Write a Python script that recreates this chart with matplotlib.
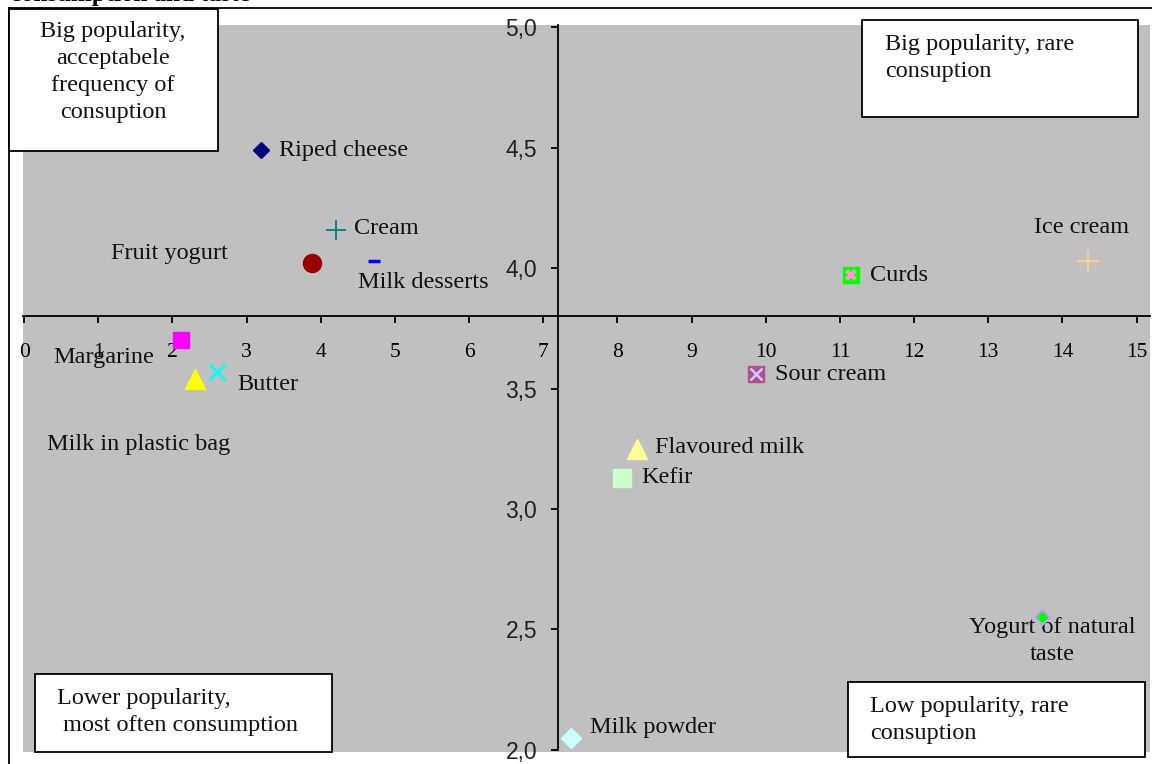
import matplotlib
matplotlib.use("Agg")
import matplotlib.pyplot as plt
from matplotlib.lines import Line2D
from matplotlib.patches import Rectangle

# ---- data ----
products = ["Riped cheese", "Cream", "Fruit yogurt", "Milk desserts", "Curds",
            "Ice cream", "Margarine", "Butter", "Milk in plastic bag", "Sour cream",
            "Flavoured milk", "Kefir", "Yogurt of natural\ntaste", "Milk powder"]
x_vals = [3.2, 4.2, 3.88, 4.72, 11.15, 14.34, 2.12, 2.6, 2.3, 9.87, 8.26, 8.06, 13.73, 7.37]
y_vals = [4.49, 4.16, 4.02, 4.03, 3.97, 4.03, 3.70, 3.57, 3.54, 3.56, 3.25, 3.13, 2.55, 2.05]
x_ticks = list(range(0, 16))
y_ticks = [2.0, 2.5, 3.0, 3.5, 4.0, 4.5, 5.0]
y_tick_labels = ["2,0", "2,5", "3,0", "3,5", "4,0", "4,5", "5,0"]
quadrant_texts = ["Big popularity,\nacceptabele\nfrequency of\nconsuption",
                  "Big popularity, rare\nconsuption",
                  "Lower popularity,\n most often consumption",
                  "Low popularity, rare\nconsuption"]
header_text = "consumption and taste"
x_cross, y_cross = 7.2, 3.8

# ---- styles (marker layers per product) ----
marker_styles = [
    [dict(marker="D", color="#000080", ms=8)],
    [dict(marker="+", color="#008080", ms=15, mew=1.3)],
    [dict(marker="o", color="#990000", ms=13)],
    [dict(marker="_", color="#0000ff", ms=9, mew=2.5)],
    [dict(marker="s", color="#00ff00", ms=11), dict(marker="X", color="#ff99cc", ms=9, mew=0)],
    [dict(marker="+", color="#ffcc99", ms=16, mew=1.3)],
    [dict(marker="s", color="#ff00ff", ms=11)],
    [dict(marker="x", color="#00ffff", ms=11, mew=2)],
    [dict(marker="^", color="#ffff00", ms=14)],
    [dict(marker="s", color="#b05090", ms=12), dict(marker="x", color="#ccccff", ms=9, mew=1.8)],
    [dict(marker="^", color="#ffff99", ms=14)],
    [dict(marker="s", color="#ccffcc", ms=13)],
    [dict(marker="D", color="#cc99ff", ms=8), dict(marker="D", color="#00ff00", ms=5)],
    [dict(marker="D", color="#ccffff", ms=10)],
]
# label offsets in pixels (dx right, dy up) and horizontal alignment
label_offsets = [(18, 0, "left"), (18, 1, "left"), (-201, 10, "left"), (-16, -22, "left"),
                 (19, 0, "left"), (-54, 33, "left"), (-128, -17, "left"), (20, -13, "left"),
                 (-148, -66, "left"), (19, 0, "left"), (18, 1, "left"), (19, 0, "left"),
                 (10, -24, "center"), (19, 10, "left")]

W, H, DPI = 1152, 764, 100
fig = plt.figure(figsize=(W / DPI, H / DPI), dpi=DPI)
serif = "Liberation Serif"
sans = "Liberation Sans"

def fx(px):
    return px / W

def fy(py):
    return 1 - py / H

# plot area in pixels
L, R, T, B = 23, 1150, 25, 752
ax = fig.add_axes([fx(L), fy(B), fx(R) - fx(L), fy(T) - fy(B)])
ax.set_facecolor("#c0c0c0")
ax.set_xlim(-0.015, 15.18)
ax.set_ylim(1.99, 5.01)

ax.spines["top"].set_visible(False)
ax.spines["right"].set_visible(False)
ax.spines["left"].set_position(("data", x_cross))
ax.spines["bottom"].set_position(("data", y_cross))
ax.spines["left"].set_bounds(2.0, 5.01)
for s in ("left", "bottom"):
    ax.spines[s].set_linewidth(1.3)
    ax.spines[s].set_color("black")

ax.set_xticks(x_ticks)
ax.set_xticklabels([str(t) for t in x_ticks], fontfamily=serif, fontsize=15.5)
ax.set_yticks(y_ticks)
ax.set_yticklabels(y_tick_labels, fontfamily=sans, fontsize=16.5)
ax.tick_params(axis="x", direction="out", length=5, width=1.3, pad=14, colors="black")
ax.tick_params(axis="y", direction="out", length=5, width=1.3, pad=10, colors="black")
for lab in ax.get_yticklabels():
    lab.set_color("#222222")

for i, name in enumerate(products):
    for st in marker_styles[i]:
        st = dict(st)
        c = st.pop("color")
        ax.plot([x_vals[i]], [y_vals[i]], linestyle="none", color=c, mec=c, mfc=c, **st,
                zorder=5, clip_on=False)
    dx, dy, ha = label_offsets[i]
    ax.annotate(name, (x_vals[i], y_vals[i]), xytext=(dx * 0.72, dy * 0.72),
                textcoords="offset points", ha=ha, va="center", fontfamily=serif,
                fontsize=17.5, color="#111111", multialignment="center", linespacing=1.35)

# quadrant boxes (pixel rectangles) and texts
boxes = [(9, 9, 218, 151), (862, 20, 1138, 117), (35, 674, 332, 752), (848, 682, 1145, 757)]
text_pos = [(113, 72, "center", "center"), (885, 34, "left", "top"),
            (57, 688, "left", "top"), (870, 696, "left", "top")]
for (x0, y0, x1, y1), txt, (tx, ty, ha, va) in zip(boxes, quadrant_texts, text_pos):
    fig.patches.append(Rectangle((fx(x0), fy(y1)), fx(x1) - fx(x0), fy(y0) - fy(y1),
                                 transform=fig.transFigure, facecolor="white",
                                 edgecolor="black", linewidth=1.3, zorder=10))
    fig.text(fx(tx), fy(ty), txt, ha=ha, va=va, fontfamily=serif, fontsize=17.5,
             linespacing=1.36, zorder=11, color="#111111",
             multialignment="center" if ha == "center" else "left")

# outer frame lines
fig.lines.append(Line2D([fx(9), fx(W)], [fy(8), fy(8)], transform=fig.transFigure,
                        color="black", linewidth=1.3))
fig.lines.append(Line2D([fx(9), fx(9)], [fy(8), fy(H)], transform=fig.transFigure,
                        color="black", linewidth=1.3))
fig.text(fx(10), fy(1), header_text, ha="left", va="baseline", fontfamily=serif,
         fontsize=18, fontweight="bold")

fig.savefig("out.png", dpi=DPI)
